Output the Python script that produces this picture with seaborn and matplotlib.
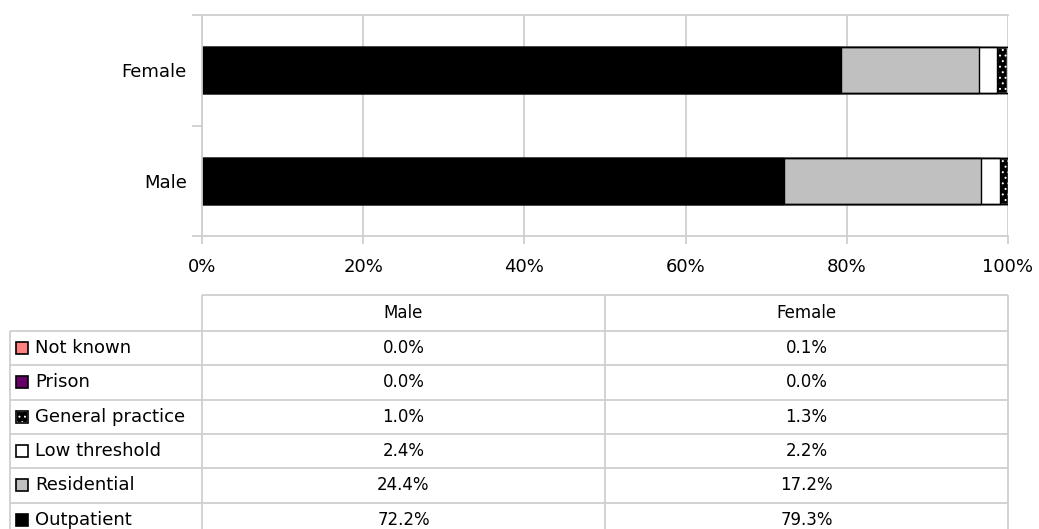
import numpy as np
import pandas as pd
import matplotlib
matplotlib.use("Agg")
import matplotlib.pyplot as plt
from matplotlib.patches import Rectangle
import seaborn as sns

# Data (share of treatment setting, %)
genders = ["Male", "Female"]
bar_order = ["Female", "Male"]
settings = ["Outpatient", "Residential", "Low threshold", "General practice", "Prison", "Not known"]
male_pct = [72.2, 24.4, 2.4, 1.0, 0.0, 0.0]
female_pct = [79.3, 17.2, 2.2, 1.3, 0.0, 0.1]
x_ticks = [0, 20, 40, 60, 80, 100]
x_tick_labels = ["0%", "20%", "40%", "60%", "80%", "100%"]

colors = {
    "Outpatient": "#000000",
    "Residential": "#C0C0C0",
    "Low threshold": "#FFFFFF",
    "General practice": "#000000",
    "Prison": "#660066",
    "Not known": "#FF8080",
}

W, H = 1039, 529
GRID = "#cfcfcf"
FS = 13

sns.set_style("white")
plt.rcParams["font.family"] = ["DejaVu Sans"]
plt.rcParams["text.color"] = "black"
plt.rcParams["hatch.linewidth"] = 0.7

# long table with cumulative shares (normalised so each bar ends at 100)
rows = []
for g, vals in zip(genders, [male_pct, female_pct]):
    vals = np.array(vals) / sum(vals) * 100
    cum = np.cumsum(vals)
    for s, v, c in zip(settings, vals, cum):
        rows.append({"Gender": g, "Setting": s, "Share": v, "Cum": c})
df = pd.DataFrame(rows)

fig = plt.figure(figsize=(W / 100, H / 100), dpi=100)
ax = fig.add_axes([202 / W, 1 - 236 / H, 806 / W, 221 / H])

# stacked bars: draw the cumulative totals from the back to the front
for s in reversed(settings):
    sub = df[df["Setting"] == s]
    n_before = len(ax.patches)
    sns.barplot(
        data=sub, x="Cum", y="Gender", order=bar_order, orient="h",
        color=colors[s], saturation=1, width=0.415,
        edgecolor="white" if s == "General practice" else "black",
        linewidth=1, errorbar=None, ax=ax,
    )
    if s == "General practice":
        for p in ax.patches[n_before:]:
            p.set_hatch("...")

# black outline round the whole stack
totals = df.groupby("Gender", as_index=False)["Share"].sum()
sns.barplot(
    data=totals, x="Share", y="Gender", order=bar_order, orient="h",
    fill=False, color="black", saturation=1, width=0.415, linewidth=1,
    errorbar=None, ax=ax,
)

ax.set_xlim(0, 100)
ax.set_ylim(1.5, -0.5)
ax.set_xticks(x_ticks, x_tick_labels)
ax.set_yticks([0, 1], bar_order)
ax.set_yticks([-0.5, 0.5, 1.5], minor=True)
ax.tick_params(axis="y", which="major", length=0, pad=11, labelsize=FS, labelcolor="black")
ax.tick_params(axis="y", which="minor", length=7, width=1.3, color=GRID, left=True)
ax.tick_params(axis="x", length=6, width=1.3, color=GRID, pad=10, labelsize=FS,
               labelcolor="black", bottom=True)
ax.set_xlabel("")
ax.set_ylabel("")
ax.xaxis.grid(True, color=GRID, linewidth=1.3)
ax.set_axisbelow(True)
for side in ["left", "bottom", "top"]:
    ax.spines[side].set_color(GRID)
    ax.spines[side].set_linewidth(1.3)
ax.spines["right"].set_visible(False)

# data table below the chart, laid out in pixel units
tax = fig.add_axes([0, 0, 1, 1], facecolor="none")
tax.set_xlim(0, W)
tax.set_ylim(H, 0)
tax.axis("off")

col_x = [10, 202, 605, 1008]
head_top, head_bot, row_h = 295, 331, 34.3
row_order = list(reversed(settings))
row_edges = [head_bot + i * row_h for i in range(len(row_order) + 1)]

line_kw = dict(color=GRID, linewidth=1.3, solid_capstyle="butt")
tax.plot([col_x[1], col_x[3]], [head_top, head_top], **line_kw)
for y in row_edges:
    tax.plot([col_x[0], col_x[3]], [y, y], **line_kw)
tax.plot([col_x[0], col_x[0]], [head_bot, H + 5], **line_kw)
for x in col_x[1:]:
    tax.plot([x, x], [head_top, H + 5], **line_kw)

for j, g in enumerate(genders):
    tax.text((col_x[j + 1] + col_x[j + 2]) / 2, (head_top + head_bot) / 2, g,
             ha="center", va="center", fontsize=FS - 1)

lookup = {g: dict(zip(settings, v)) for g, v in zip(genders, [male_pct, female_pct])}
for i, s in enumerate(row_order):
    yc = (row_edges[i] + row_edges[i + 1]) / 2
    gp = s == "General practice"
    tax.add_patch(Rectangle((16, yc - 6), 12, 12, facecolor=colors[s],
                            edgecolor="white" if gp else "black",
                            linewidth=1.2, hatch="..." if gp else None))
    if gp:
        tax.add_patch(Rectangle((16, yc - 6), 12, 12, fill=False,
                                edgecolor="black", linewidth=1.2))
    tax.text(35, yc, s, ha="left", va="center", fontsize=FS)
    for j, g in enumerate(genders):
        tax.text((col_x[j + 1] + col_x[j + 2]) / 2, yc, f"{lookup[g][s]:.1f}%",
                 ha="center", va="center", fontsize=FS - 1)

fig.savefig("out.png", dpi=100)
